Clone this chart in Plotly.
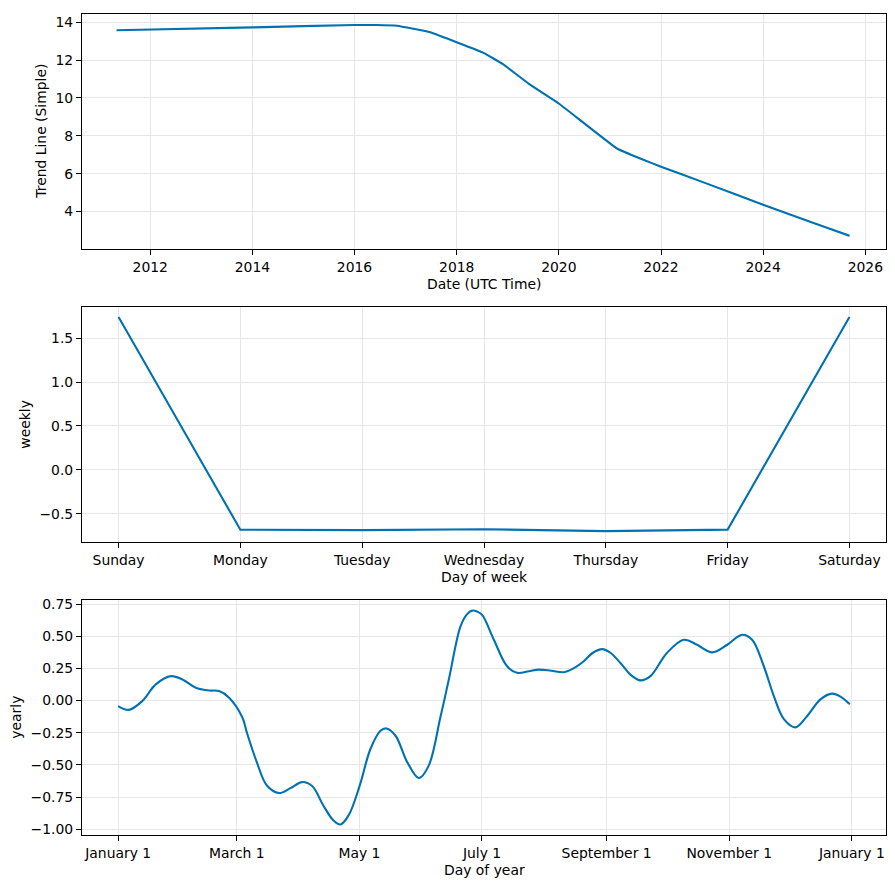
import plotly.graph_objects as go
import datetime as dt

# ---------------- data ----------------
trend_dates = ["2011-05-05", "2014-01-01", "2016-01-01", "2016-06-01", "2016-11-01",
               "2017-06-25", "2018-07-15", "2018-11-25", "2019-06-01", "2020-01-01",
               "2021-02-20", "2021-08-05", "2022-01-01", "2022-11-01", "2024-01-01",
               "2025-01-01", "2025-09-10"]
trend_values = [13.58, 13.73, 13.86, 13.86, 13.82,
                13.47, 12.37, 11.80, 10.75, 9.71,
                7.33, 6.80, 6.37, 5.54, 4.36,
                3.38, 2.72]
trend_lower = [13.58, 13.73, 13.86, 13.86, 13.82,
               13.47, 12.37, 11.80, 10.75, 9.71,
               7.33, 6.80, 6.37, 5.54, 4.36,
               3.36, 2.63]
trend_upper = [13.58, 13.73, 13.86, 13.86, 13.82,
               13.47, 12.37, 11.80, 10.75, 9.71,
               7.33, 6.80, 6.37, 5.54, 4.36,
               3.40, 2.80]
trend_tick_years = ["2012", "2014", "2016", "2018", "2020", "2022", "2024", "2026"]

weekdays = ["Sunday", "Monday", "Tuesday", "Wednesday", "Thursday", "Friday", "Saturday"]
weekly_values = [1.742, -0.682, -0.686, -0.676, -0.698, -0.681, 1.742]

yearly_days = [0, 5.3, 12, 18.7, 26.2, 32, 38.6, 45.3, 50.2, 55.2, 61.8, 64, 69, 74, 80,
               85.7, 91.5, 96.5, 102, 107, 110.6, 114.7, 120.2, 125.5, 130.5, 133.5, 138,
               143.8, 149.6, 154.5, 160.3, 164.5, 170.3, 173.5, 176.1, 178.8, 181.1, 186.9,
               193.5, 198.5, 204.3, 209.3, 215.5, 221.7, 226.5, 231.6, 236, 240.8, 245,
               250, 255, 259.9, 264.8, 273, 281.4, 288, 295.5, 303, 310.4, 315.4, 321.2,
               326.2, 331.2, 337, 342.8, 349.4, 355.2, 359.4, 364]
yearly_values = [-0.042, -0.072, -0.003, 0.126, 0.19, 0.164, 0.10, 0.079, 0.074, 0.023,
                 -0.131, -0.247, -0.48, -0.66, -0.718, -0.68, -0.633, -0.664, -0.813, -0.929,
                 -0.962, -0.89, -0.659, -0.376, -0.234, -0.216, -0.273, -0.478, -0.602, -0.505,
                 -0.13, 0.164, 0.576, 0.67, 0.699, 0.69, 0.666, 0.473, 0.267, 0.216, 0.228,
                 0.241, 0.232, 0.221, 0.250, 0.306, 0.37, 0.40, 0.37, 0.29, 0.20, 0.157, 0.19,
                 0.37, 0.473, 0.434, 0.375, 0.434, 0.512, 0.473, 0.267, 0.035, -0.144, -0.208,
                 -0.119, 0.01, 0.054, 0.031, -0.029]
year_tick_dates = ["2017-01-01", "2017-03-01", "2017-05-01", "2017-07-01",
                   "2017-09-01", "2017-11-01", "2018-01-01"]
year_tick_labels = ["January 1", "March 1", "May 1", "July 1",
                    "September 1", "November 1", "January 1"]

# --------------- build ----------------
base = dt.datetime(2017, 1, 1)
yearly_dates = [base + dt.timedelta(days=d) for d in yearly_days]

OFF = 8  # page body margin
W, H = 895 - OFF, 890 - OFF
BLUE = "#0072B2"
FONT = "DejaVu Sans"
FS = 13.9


def px_x(p):
    return (p - OFF) / W


def px_y(p):
    return 1 - (p - OFF) / H


fig = go.Figure()

fig.add_trace(go.Scatter(x=trend_dates, y=trend_upper, mode="lines", line=dict(width=0),
                         showlegend=False, hoverinfo="skip", xaxis="x", yaxis="y"))
fig.add_trace(go.Scatter(x=trend_dates, y=trend_lower, mode="lines", line=dict(width=0),
                         fill="tonexty", fillcolor="rgba(0,114,178,0.2)",
                         showlegend=False, hoverinfo="skip", xaxis="x", yaxis="y"))
fig.add_trace(go.Scatter(x=trend_dates, y=trend_values, mode="lines",
                         line=dict(color=BLUE, width=2.1, shape="spline", smoothing=0.25),
                         showlegend=False, xaxis="x", yaxis="y"))
fig.add_trace(go.Scatter(x=weekdays, y=weekly_values, mode="lines",
                         line=dict(color=BLUE, width=2.1),
                         showlegend=False, xaxis="x2", yaxis="y2"))
fig.add_trace(go.Scatter(x=yearly_dates, y=yearly_values, mode="lines",
                         line=dict(color=BLUE, width=2.1, shape="spline", smoothing=1.0),
                         showlegend=False, xaxis="x3", yaxis="y3"))

xdom = [px_x(82), px_x(886)]
common = dict(showline=True, linecolor="black", linewidth=1.1, mirror=True,
              ticks="outside", ticklen=5, tickwidth=1.1, tickcolor="black",
              showgrid=True, gridcolor="#e6e6e6", gridwidth=1.2, zeroline=False,
              tickfont=dict(family=FONT, size=FS, color="black"))

fig.update_layout(
    width=W, height=H,
    margin=dict(l=0, r=0, t=0, b=0),
    paper_bgcolor="white", plot_bgcolor="white",
    showlegend=False,
    xaxis=dict(domain=xdom, anchor="y", type="date",
               range=["2010-08-31", "2026-05-29"],
               tickvals=[y + "-01-01" for y in trend_tick_years],
               ticktext=trend_tick_years, **common),
    yaxis=dict(domain=[px_y(247), px_y(10)], anchor="x",
               range=[2.0, 14.44], tickvals=[4, 6, 8, 10, 12, 14], **common),
    xaxis2=dict(domain=xdom, anchor="y2", type="category",
                range=[-0.3, 6.3], **common),
    yaxis2=dict(domain=[px_y(542), px_y(305)], anchor="x2",
                range=[-0.826, 1.856], tickvals=[-0.5, 0, 0.5, 1.0, 1.5],
                tickformat=".1f", **common),
    xaxis3=dict(domain=xdom, anchor="y3", type="date",
                range=["2016-12-14", "2018-01-18"],
                tickvals=year_tick_dates, ticktext=year_tick_labels, **common),
    yaxis3=dict(domain=[px_y(837), px_y(600)], anchor="x3",
                range=[-1.047, 0.782],
                tickvals=[-1.0, -0.75, -0.5, -0.25, 0, 0.25, 0.5, 0.75],
                tickformat=".2f", **common),
)


def label(text, x, y, angle=0):
    fig.add_annotation(text=text, x=px_x(x), y=px_y(y), xref="paper", yref="paper",
                       showarrow=False, textangle=angle, xanchor="center", yanchor="middle",
                       font=dict(family=FONT, size=FS, color="black"))


label("Date (UTC Time)", 484, 282)
label("Trend Line (Simple)", 41, 128.5, -90)
label("Day of week", 484, 577)
label("weekly", 25, 423.5, -90)
label("Day of year", 484, 872)
label("yearly", 16, 718.5, -90)

fig.write_html("out.html")
